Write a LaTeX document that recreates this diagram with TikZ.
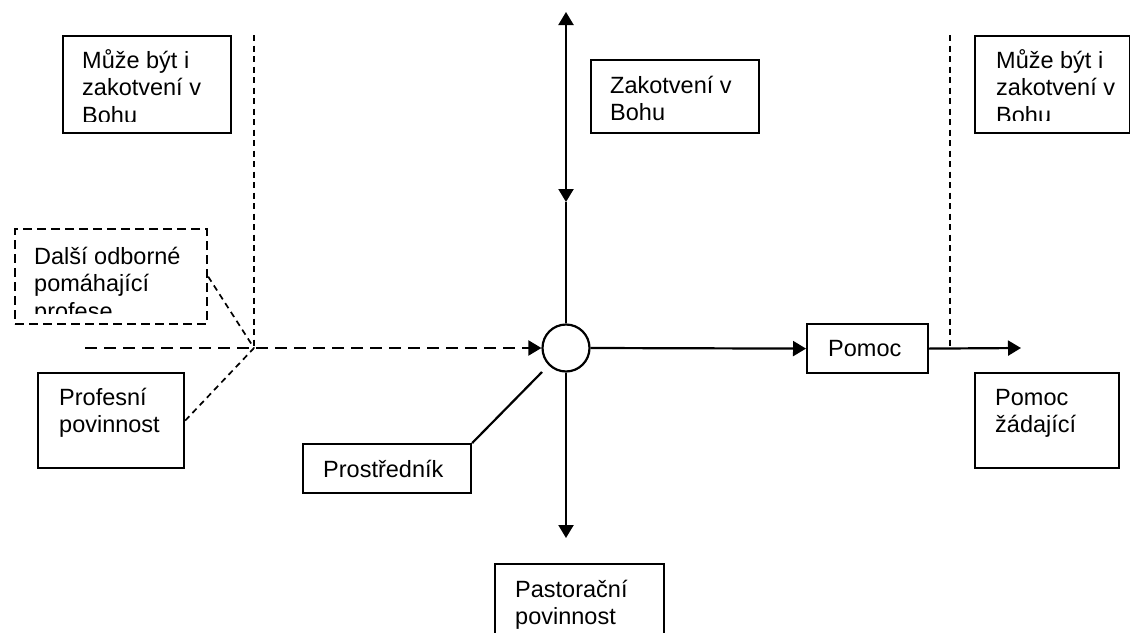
\documentclass[tikz,border=0pt]{standalone}
\usepackage{fontspec}
\setmainfont{Liberation Sans}
\usetikzlibrary{arrows.meta}
\newcommand{\lines}[1]{\begin{tabular}[t]{@{}l@{}}#1\end{tabular}}
\begin{document}
\begin{tikzpicture}[x=1pt,y=-1pt,
  box/.style={draw, line width=2.2pt, rectangle, inner sep=0pt, anchor=north west},
  dbox/.style={box, dash pattern=on 9pt off 5pt},
  lbl/.style={anchor=base west, inner sep=0pt, font=\fontsize{23.5}{27.5}\selectfont},
  solidline/.style={line width=2.2pt},
  vdash/.style={line width=1.7pt, dash pattern=on 6pt off 4.5pt},
  hdash/.style={line width=2.2pt, dash pattern=on 12pt off 7pt},
  tip/.style={-{Triangle[length=13pt,width=15pt]}},
  dtip/.style={{Triangle[length=13pt,width=15pt]}-{Triangle[length=13pt,width=15pt]}}
]
\useasboundingbox (0,0) rectangle (1130,632);

% boxes
\node[box, minimum width=168pt, minimum height=97pt] (m1) at (62,35) {};
\node[box, minimum width=155pt, minimum height=97pt] (m2) at (974,35) {};
\node[box, minimum width=168pt, minimum height=73pt] (zak) at (590,59) {};
\node[dbox, minimum width=192pt, minimum height=95pt] (dalsi) at (14,228) {};
\node[box, minimum width=146pt, minimum height=95pt] (prof) at (37,372) {};
\node[box, minimum width=168pt, minimum height=49pt] (prost) at (302,443) {};
\node[box, minimum width=169pt, minimum height=80pt] (past) at (494,563) {};
\node[box, minimum width=121pt, minimum height=49pt] (pomoc) at (806,323) {};
\node[box, minimum width=144pt, minimum height=95pt] (zad) at (974,372) {};
\node[draw, circle, line width=2.2pt, minimum size=47pt, inner sep=0pt] (c) at (566,348) {};

% texts
\begin{scope}
  \clip (62,35) rectangle (230,121);
  \node[lbl] (t1) at (82,68) {\lines{Může být i\\zakotvení v\\Bohu}};
\end{scope}
\begin{scope}
  \clip (974,35) rectangle (1129,120);
  \node[lbl] (t2) at (996,68) {\lines{Může být i\\zakotvení v\\Bohu}};
\end{scope}
\begin{scope}
  \clip (14,228) rectangle (206,313);
  \node[lbl] (t3) at (34,264) {\lines{Další odborné\\pomáhající\\profese}};
\end{scope}
\node[lbl] (t4) at (610,93) {\lines{Zakotvení v\\Bohu}};
\node[lbl] (t5) at (59,405) {\lines{Profesní\\povinnost}};
\node[lbl] (t6) at (323,477) {Prostředník};
\node[lbl] (t7) at (515,597) {\lines{Pastorační\\povinnost}};
\node[lbl] (t8) at (828,356) {Pomoc};
\node[lbl] (t9) at (995,405) {\lines{Pomoc\\žádající}};

% coordinates
\coordinate (uptip) at (566,12);
\coordinate (upend) at (566,202);
\coordinate (dntip) at (566,538);
\coordinate (hstart) at (85,348);
\coordinate (J) at (254,348);
\coordinate (ltop) at (254,35);
\coordinate (rtop) at (950,35);
\coordinate (rj) at (950,348);
\coordinate (rtip) at (1021,348);
\coordinate (pe) at (542,372);

% connectors
\draw[solidline, dtip] (uptip) -- (upend);
\draw[solidline] (upend) -- (c.north);
\draw[solidline, tip] (c.south) -- (dntip);
\draw[hdash, tip] (hstart) -- (c.west);
\draw[vdash] (ltop) -- (J);
\draw[vdash] (dalsi.east) -- (J);
\draw[vdash] (prof.east) -- (J);
\draw[solidline, tip] (c.east) -- (pomoc.west);
\draw[solidline, tip] (pomoc.east) -- (rtip);
\draw[vdash] (rtop) -- (rj);
\draw[solidline] (prost.north east) -- (pe);
\end{tikzpicture}
\end{document}
